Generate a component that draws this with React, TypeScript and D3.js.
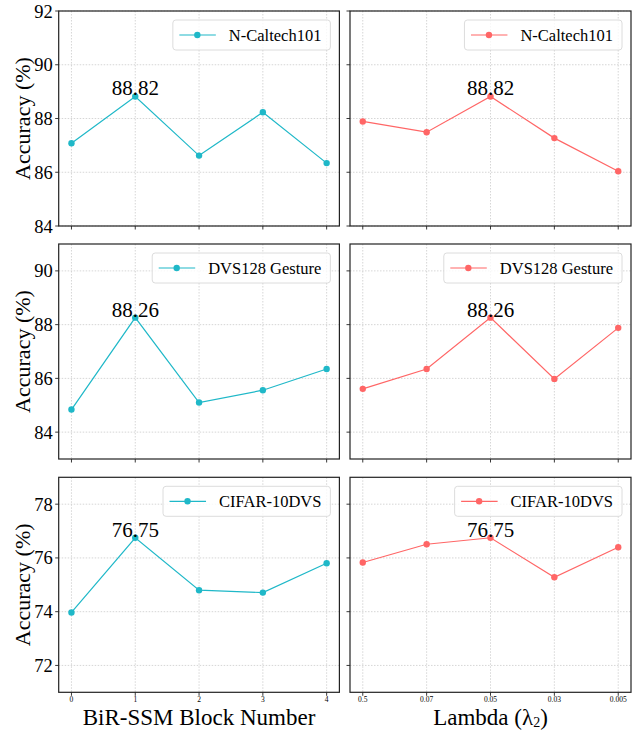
import React from 'react';
import * as d3 from 'd3';

// tick labels
const blockTicks = ['0', '1', '2', '3', '4'];
const lambdaTicks = ['0.5', '0.07', '0.05', '0.03', '0.005'];

// dataset names (one per row)
const datasetNames = ['N-Caltech101', 'DVS128 Gesture', 'CIFAR-10DVS'];

// accuracy vs. BiR-SSM block number
const blockNCaltech = [87.08, 88.82, 86.62, 88.23, 86.34];
const blockDVS = [84.84, 88.26, 85.1, 85.56, 86.35];
const blockCIFAR = [73.97, 76.75, 74.8, 74.71, 75.8];

// accuracy vs. lambda
const lambdaNCaltech = [87.89, 87.49, 88.82, 87.27, 86.04];
const lambdaDVS = [85.61, 86.35, 88.26, 85.98, 87.88];
const lambdaCIFAR = [75.83, 76.51, 76.75, 75.28, 76.4];

// y ranges per row
const yDomains: [number, number][] = [[84, 92], [83, 91], [71, 79]];
const yTickVals = [[84, 86, 88, 90, 92], [84, 86, 88, 90], [72, 74, 76, 78]];

const W = 635;
const H = 730;
const FONT = 'Liberation Serif, Times New Roman, DejaVu Serif, serif';
const CYAN = '#1fb8c8';
const RED = '#ff6666';

const cols = [
  { x0: 58.7, x1: 339.4, ticks: blockTicks, color: CYAN, series: [blockNCaltech, blockDVS, blockCIFAR], title: 'BiR-SSM Block Number' },
  { x0: 350, x1: 631, ticks: lambdaTicks, color: RED, series: [lambdaNCaltech, lambdaDVS, lambdaCIFAR], title: 'Lambda' },
];
const rows = [
  { y0: 11, y1: 226 },
  { y0: 244, y1: 459 },
  { y0: 477.3, y1: 692.3 },
];

let ctx: CanvasRenderingContext2D | null = null;
function textWidth(s: string, size: number) {
  if (!ctx) ctx = document.createElement('canvas').getContext('2d');
  if (!ctx) return s.length * size * 0.5;
  ctx.font = `${size}px ${FONT}`;
  return ctx.measureText(s).width;
}

function Panel({ col, row, ri, ci }: any) {
  const values: number[] = col.series[ri];
  const x = d3.scaleLinear().domain([-0.2, 4.2]).range([col.x0, col.x1]);
  const y = d3.scaleLinear().domain(yDomains[ri]).range([row.y1, row.y0]);
  const idx = d3.range(values.length);
  const line = d3.line<number>().x((i) => x(i)).y((i) => y(values[i]));
  const best = d3.maxIndex(values);

  const legSize = 16.5;
  const name = datasetNames[ri];
  const tw = textWidth(name, legSize);
  const bx1 = col.x1 - 9;
  const bx0 = bx1 - 9 - tw - 56;
  const by0 = row.y0 + 9;
  const by1 = by0 + 30;

  return (
    <g>
      {/* grid */}
      {idx.map((i) => (
        <line key={'gx' + i} x1={x(i)} x2={x(i)} y1={row.y0} y2={row.y1} stroke="#cccccc" strokeWidth={0.8} strokeDasharray="1.5,1.5" />
      ))}
      {yTickVals[ri].map((t) => (
        <line key={'gy' + t} x1={col.x0} x2={col.x1} y1={y(t)} y2={y(t)} stroke="#cccccc" strokeWidth={0.8} strokeDasharray="1.5,1.5" />
      ))}
      {/* series */}
      <path d={line(idx) || ''} fill="none" stroke={col.color} strokeWidth={1.2} />
      {idx.map((i) => (
        <circle key={'p' + i} cx={x(i)} cy={y(values[i])} r={3.2} fill={col.color} />
      ))}
      <text x={x(best)} y={y(values[best]) - 1} textAnchor="middle" fontSize={21} fontFamily={FONT} fill="#000">
        {values[best].toFixed(2)}
      </text>
      {/* frame */}
      <rect x={col.x0} y={row.y0} width={col.x1 - col.x0} height={row.y1 - row.y0} fill="none" stroke="#222" strokeWidth={1.2} />
      {/* y ticks */}
      {yTickVals[ri].map((t) => (
        <g key={'yt' + t}>
          <line x1={col.x0 - 3.5} x2={col.x0} y1={y(t)} y2={y(t)} stroke="#222" strokeWidth={0.9} />
          {ci === 0 && (
            <text x={col.x0 - 6} y={y(t) + 6.5} textAnchor="end" fontSize={18.5} fontFamily={FONT} fill="#000">
              {t}
            </text>
          )}
        </g>
      ))}
      {/* x ticks */}
      {idx.map((i) => (
        <g key={'xt' + i}>
          <line x1={x(i)} x2={x(i)} y1={row.y1} y2={row.y1 + 3.5} stroke="#222" strokeWidth={0.9} />
          {ri === 2 && (
            <text x={x(i)} y={row.y1 + 9.5} textAnchor="middle" fontSize={7.5} fontFamily={FONT} fill="#000">
              {col.ticks[i]}
            </text>
          )}
        </g>
      ))}
      {/* legend */}
      <rect x={bx0} y={by0} width={bx1 - bx0} height={by1 - by0} rx={3} fill="#fff" fillOpacity={0.8} stroke="#d8d8d8" strokeWidth={0.9} />
      <line x1={bx0 + 6.5} x2={bx0 + 43} y1={(by0 + by1) / 2} y2={(by0 + by1) / 2} stroke={col.color} strokeWidth={1.2} />
      <circle cx={bx0 + 24.5} cy={(by0 + by1) / 2} r={3.2} fill={col.color} />
      <text x={bx0 + 56} y={(by0 + by1) / 2 + 5.8} fontSize={legSize} fontFamily={FONT} fill="#000">
        {name}
      </text>
    </g>
  );
}

export default function App() {
  return (
    <svg width={W} height={H} style={{ position: 'absolute', left: 0, top: 0, background: '#fff' }}>
      <rect width={W} height={H} fill="#fff" />
      {rows.map((row, ri) =>
        cols.map((col, ci) => <Panel key={ri + '-' + ci} col={col} row={row} ri={ri} ci={ci} />)
      )}
      {rows.map((row, ri) => (
        <text
          key={'yl' + ri}
          transform={`translate(30,${(row.y0 + row.y1) / 2}) rotate(-90)`}
          textAnchor="middle"
          fontSize={22}
          fontFamily={FONT}
          fill="#000"
        >
          Accuracy (%)
        </text>
      ))}
      <text x={(cols[0].x0 + cols[0].x1) / 2} y={725} textAnchor="middle" fontSize={23} fontFamily={FONT} fill="#000">
        {cols[0].title}
      </text>
      <text x={(cols[1].x0 + cols[1].x1) / 2} y={725} textAnchor="middle" fontSize={23} fontFamily={FONT} fill="#000">
        {cols[1].title} (λ<tspan fontSize={14} dy={1.8}>2</tspan><tspan dy={-1.8}>)</tspan>
      </text>
    </svg>
  );
}
